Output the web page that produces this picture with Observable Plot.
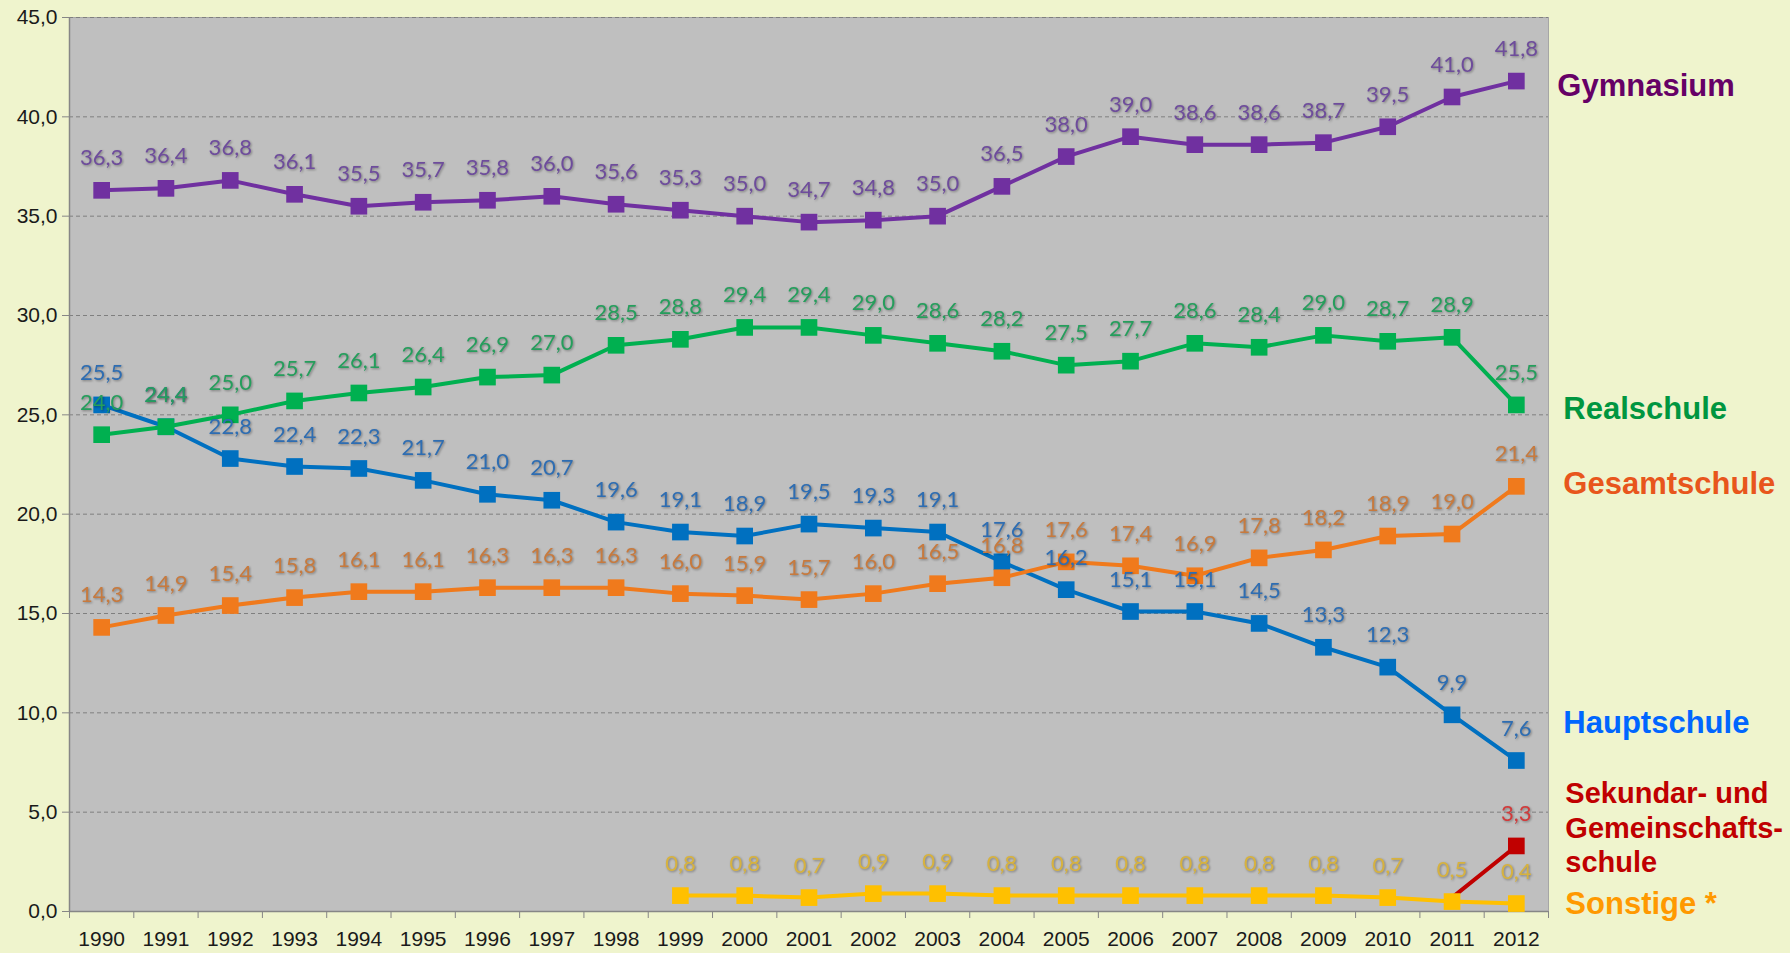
<!DOCTYPE html>
<html>
<head>
<meta charset="utf-8">
<script src="https://cdn.jsdelivr.net/npm/d3@7"></script>
<script src="https://cdn.jsdelivr.net/npm/@observablehq/plot@0.6"></script>
<style>
  html, body { margin: 0; padding: 0; background: #EFF4CD; }
  #chart { width: 1790px; height: 953px; }
</style>
</head>
<body>
<div id="chart"></div>
<script>
// ---- data ----
const years = [1990,1991,1992,1993,1994,1995,1996,1997,1998,1999,2000,2001,2002,2003,2004,2005,2006,2007,2008,2009,2010,2011,2012];
const gymnasium   = [36.3,36.4,36.8,36.1,35.5,35.7,35.8,36.0,35.6,35.3,35.0,34.7,34.8,35.0,36.5,38.0,39.0,38.6,38.6,38.7,39.5,41.0,41.8];
const realschule  = [24.0,24.4,25.0,25.7,26.1,26.4,26.9,27.0,28.5,28.8,29.4,29.4,29.0,28.6,28.2,27.5,27.7,28.6,28.4,29.0,28.7,28.9,25.5];
const gesamtschule= [14.3,14.9,15.4,15.8,16.1,16.1,16.3,16.3,16.3,16.0,15.9,15.7,16.0,16.5,16.8,17.6,17.4,16.9,17.8,18.2,18.9,19.0,21.4];
const hauptschule = [25.5,24.4,22.8,22.4,22.3,21.7,21.0,20.7,19.6,19.1,18.9,19.5,19.3,19.1,17.6,16.2,15.1,15.1,14.5,13.3,12.3,9.9,7.6];
const sekundar    = [null,null,null,null,null,null,null,null,null,null,null,null,null,null,null,null,null,null,null,null,null,0.7,3.3];
const sonstige    = [null,null,null,null,null,null,null,null,null,0.8,0.8,0.7,0.9,0.9,0.8,0.8,0.8,0.8,0.8,0.8,0.7,0.5,0.4];
const yTicks = [0,5,10,15,20,25,30,35,40,45];
const seriesNames = ["Gymnasium","Realschule","Gesamtschule","Hauptschule","Sekundar- und\nGemeinschafts-\nschule","Sonstige *"];

// ---- styling ----
const fmt = v => v.toFixed(1).replace(".", ",");
const last = years.length - 1;
const series = [
  // drawing order (bottom to top)
  {values: hauptschule,  line: "#0070C0", label: "#2E6DB2", shown: i => true},
  {values: gesamtschule, line: "#F07A1C", label: "#C77A3E", shown: i => true},
  {values: realschule,   line: "#00B050", label: "#259E5C", shown: i => true},
  {values: gymnasium,    line: "#7030A0", label: "#6E4C9C", shown: i => true},
  {values: sekundar,     line: "#C00000", label: "#D23A3A", shown: i => i === last},
  {values: sonstige,     line: "#FFC000", label: "#D7B23E", shown: i => true}
];
const rows = s => years.map((year, i) => ({year, value: s.values[i], i})).filter(d => d.value != null);

// right-hand labels (annotations anchored at the last year)
const legendAnn = [
  {text: seriesNames[0], y: 41.63, color: "#660066", size: 31, dx: 41},
  {text: seriesNames[1], y: 25.37, color: "#009640", size: 31, dx: 47},
  {text: seriesNames[2], y: 21.6,  color: "#E8561C", size: 31, dx: 47},
  {text: seriesNames[3], y: 9.6,   color: "#0066FF", size: 31, dx: 47},
  {text: seriesNames[4], y: 4.28,  color: "#C00000", size: 29, dx: 49},
  {text: seriesNames[5], y: 0.48,  color: "#FF9900", size: 31, dx: 49}
];

const marks = [
  Plot.frame({fill: "#BFBFBF", stroke: "#A6A6A6"}),
  Plot.gridY(yTicks.filter(d => d > 0), {stroke: "#7F7F7F", strokeOpacity: 1, strokeWidth: 1, strokeDasharray: "4,3"}),
  Plot.ruleX([years[0] - 0.5], {stroke: "#868686", strokeWidth: 1.5}),
  Plot.ruleY([0], {stroke: "#868686", strokeWidth: 1.5}),
  Plot.axisY(yTicks, {tickFormat: fmt, tickSize: 7, tickPadding: 5, fontSize: 21, fontFamily: "Liberation Sans, Arial, sans-serif", fill: "#1a1a1a", stroke: "#868686", label: null}),
  Plot.axisX(years, {tickFormat: d => String(d), tickSize: 0, tickPadding: 20, fontSize: 21, fontFamily: "Liberation Sans, Arial, sans-serif", fill: "#1a1a1a", label: null}),
  Plot.axisX([...years.map(y => y - 0.5), years[last] + 0.5], {tickFormat: null, text: null, tickSize: 7, stroke: "#868686", label: null})
];

for (const s of series) {
  const d = rows(s);
  marks.push(Plot.line(d, {x: "year", y: "value", stroke: s.line, strokeWidth: 4}));
  marks.push(Plot.dot(d.filter(r => s.shown(r.i)), {x: "year", y: "value", symbol: "square", r: 9.4, fill: s.line, stroke: "none"}));
}
for (const s of series) {
  const d = rows(s).filter(r => s.shown(r.i));
  marks.push(Plot.text(d, {x: "year", y: "value", text: r => fmt(r.value), dy: -32, fill: s.label, fontSize: 22, fontFamily: "Lato, 'Open Sans', sans-serif", lineAnchor: "middle"}));
}
for (const a of legendAnn) {
  marks.push(Plot.text([a], {
    x: () => years[last], y: "y", text: "text", fill: a.color, fontSize: a.size,
    dx: a.dx, textAnchor: "start", lineAnchor: "middle", lineHeight: 1.2,
    fontWeight: "bold", fontFamily: "Liberation Sans, Arial, sans-serif"
  }));
}

const plot = Plot.plot({
  width: 1790,
  height: 953,
  marginLeft: 69,
  marginRight: 242,
  marginTop: 17,
  marginBottom: 42,
  style: {background: "transparent", overflow: "visible"},
  x: {type: "linear", domain: [years[0] - 0.5, years[last] + 0.5]},
  y: {domain: [0, 45]},
  marks
});
document.getElementById("chart").appendChild(plot);

// soft shadow on data labels (not on the right-hand legend texts)
const textGroups = plot.querySelectorAll('g[aria-label="text"]');
textGroups.forEach((g, k) => {
  if (k < textGroups.length - legendAnn.length) g.style.filter = "drop-shadow(1px 1px 1.2px rgba(0,0,0,0.35))";
});
</script>
</body>
</html>
